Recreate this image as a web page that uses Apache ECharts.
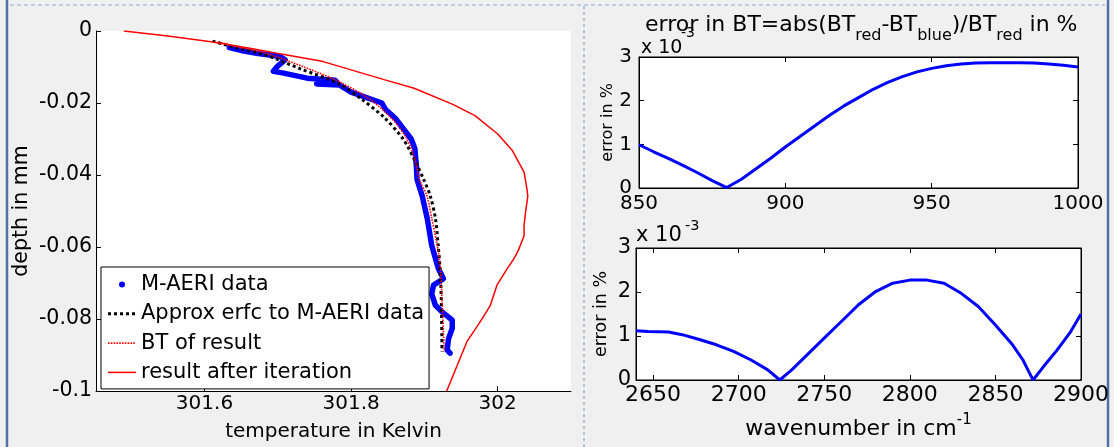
<!DOCTYPE html>
<html><head><meta charset="utf-8">
<script src="https://cdn.jsdelivr.net/npm/echarts@6/dist/echarts.min.js"></script>
<style>html,body{margin:0;padding:0;background:#f0f0f0}#c{width:1114px;height:447px}</style>
</head><body><div id="c"></div>
<script>
const FONT = 'DejaVu Sans';

// ---- Left panel: temperature (K) vs depth (mm) ----
const maeriTemp  = [301.634, 301.650, 301.671, 301.703, 301.710, 301.699, 301.694, 301.708, 301.740, 301.778, 301.781, 301.753, 301.784, 301.800, 301.842, 301.847, 301.861, 301.882, 301.887, 301.889, 301.890, 301.897, 301.904, 301.910, 301.919, 301.926, 301.9125, 301.910, 301.915, 301.924, 301.938, 301.938, 301.933, 301.931, 301.935];
const maeriDepth = [-0.0046, -0.0054, -0.0062, -0.0071, -0.0080, -0.0099, -0.0112, -0.0117, -0.0131, -0.0137, -0.0143, -0.0147, -0.0150, -0.0170, -0.0200, -0.0218, -0.0244, -0.0300, -0.0327, -0.0373, -0.0412, -0.0458, -0.0522, -0.0596, -0.0660, -0.0688, -0.0706, -0.0730, -0.0762, -0.0780, -0.0803, -0.0826, -0.0854, -0.0886, -0.0895];

const erfcTemp  = [301.611, 301.640, 301.681, 301.732, 301.784, 301.814, 301.845, 301.871, 301.888, 301.899, 301.908, 301.915, 301.919, 301.921, 301.923, 301.924];
const erfcDepth = [-0.0028, -0.0045, -0.0065, -0.0106, -0.0147, -0.0189, -0.0240, -0.0300, -0.0364, -0.0412, -0.0458, -0.0520, -0.0600, -0.0650, -0.0742, -0.0890];

const btTemp  = [301.619, 301.645, 301.681, 301.732, 301.784, 301.825, 301.856, 301.876, 301.888, 301.893, 301.9035, 301.910, 301.916, 301.921, 301.924, 301.927];
const btDepth = [-0.0030, -0.0044, -0.0060, -0.0097, -0.0141, -0.0189, -0.0244, -0.0300, -0.0364, -0.0412, -0.0458, -0.0520, -0.0580, -0.0642, -0.0742, -0.0890];

const iterTemp  = [301.490, 301.550, 301.609, 301.660, 301.699, 301.762, 301.800, 301.845, 301.886, 301.938, 301.969, 302.000, 302.020, 302.036, 302.040, 302.041, 302.038, 302.036, 302.036, 302.028, 302.022, 302.013, 301.999, 301.990, 301.976, 301.958, 301.945, 301.931, 301.930];
const iterDepth = [0.0000, -0.0014, -0.0030, -0.0047, -0.0062, -0.0085, -0.0108, -0.0135, -0.0159, -0.0203, -0.0235, -0.0286, -0.0332, -0.0392, -0.0440, -0.0460, -0.0504, -0.0540, -0.0569, -0.0610, -0.0633, -0.0660, -0.0706, -0.0762, -0.0808, -0.0863, -0.0928, -0.0997, -0.1000];

const tempTicks = [301.6, 301.8, 302];

// ---- Right panels: error in % (units of 1e-3) ----
const waveLow  = [850, 855, 860, 865, 870, 875, 880, 885, 890, 895, 900, 905, 910, 915, 920, 925, 930, 935, 940, 945, 950, 955, 960, 965, 970, 975, 980, 985, 990, 995, 1000];
const errLow   = [0.99, 0.83, 0.68, 0.52, 0.35, 0.17, 0.01, 0.20, 0.44, 0.68, 0.94, 1.18, 1.42, 1.66, 1.88, 2.07, 2.26, 2.42, 2.55, 2.66, 2.74, 2.80, 2.84, 2.86, 2.87, 2.87, 2.87, 2.86, 2.84, 2.81, 2.77];

const waveHigh = [2640, 2647, 2659, 2667, 2677, 2687, 2697, 2707, 2717, 2724, 2731, 2741, 2751, 2760, 2770, 2780, 2790, 2800, 2810, 2820, 2830, 2840, 2850, 2860, 2866, 2870, 2872, 2878, 2886, 2894, 2900];
const errHigh  = [1.12, 1.10, 1.09, 1.03, 0.92, 0.80, 0.65, 0.46, 0.23, 0.00, 0.23, 0.61, 0.99, 1.33, 1.71, 2.01, 2.20, 2.27, 2.27, 2.20, 1.97, 1.67, 1.25, 0.80, 0.46, 0.15, 0.00, 0.30, 0.68, 1.10, 1.50];
const waveHighTicks = [2650, 2700, 2750, 2800, 2850, 2900];

const zip = (a, b) => a.map((v, i) => [v, b[i]]);

const chart = echarts.init(document.getElementById('c'));
const txt = (size) => ({ fontFamily: FONT, fontSize: size, color: '#000', fontWeight: 'normal' });
const tick = { show: true, inside: true, length: 5, lineStyle: { color: '#000', width: 1 } };
const noSplit = { show: false };
const hidden = { show: false };
const noLegendDot = { color: 'rgba(0,0,0,0)', borderWidth: 0 };
const plain = v => String(v);

const option = {
  animation: false,
  backgroundColor: '#f0f0f0',
  title: [{
    text: '{m|error in BT=abs(BT}{s|red}{m|-BT}{s|blue}{m|)/BT}{s|red}{m| in %}',
    left: 645, top: 7, padding: 0,
    textStyle: { fontWeight: 'normal', rich: {
      m: { fontFamily: FONT, fontSize: 22, color: '#000', fontWeight: 'normal' },
      s: { fontFamily: FONT, fontSize: 16, color: '#000', fontWeight: 'normal', padding: [21, 0, 0, 0] }
    } }
  }],
  legend: {
    left: 101, top: 267, orient: 'vertical', selectedMode: false,
    itemWidth: 28, itemHeight: 6, itemGap: 6.3, padding: [6, 5, 5, 5.5],
    backgroundColor: '#fff', borderColor: '#000', borderWidth: 1, borderRadius: 0,
    textStyle: { fontFamily: FONT, fontSize: 21, color: '#000', lineHeight: 23 },
    data: [
      { name: 'M-AERI data', icon: 'circle' },
      { name: 'Approx erfc to M-AERI data', itemStyle: noLegendDot, lineStyle: { width: 3 } },
      { name: 'BT of result', itemStyle: noLegendDot, lineStyle: { width: 1.6 } },
      { name: 'result after iteration', itemStyle: noLegendDot, lineStyle: { width: 1.5 } }
    ]
  },
  grid: [
    { left: 96, top: 31, width: 475, height: 362, show: true, backgroundColor: '#fff', borderWidth: 0 },
    { left: 639, top: 57, width: 439, height: 131, show: true, backgroundColor: '#fff', borderColor: '#000', borderWidth: 1 },
    { left: 636, top: 248, width: 445, height: 132, show: true, backgroundColor: '#fff', borderColor: '#000', borderWidth: 1 }
  ],
  xAxis: [
    { type: 'value', gridIndex: 0, min: 301.452, max: 302.1,
      axisLine: { show: true, onZero: false, lineStyle: { color: '#000' } },
      axisTick: Object.assign({}, tick, { customValues: tempTicks }),
      axisLabel: Object.assign(txt(20), { margin: 3, customValues: tempTicks, formatter: v => String(+v.toFixed(1)) }),
      splitLine: noSplit,
      name: 'temperature in Kelvin', nameLocation: 'middle', nameGap: 31, nameTextStyle: txt(20) },
    { type: 'value', gridIndex: 1, min: 850, max: 1000, interval: 50,
      axisLine: { show: true, onZero: false, lineStyle: { color: '#000' } },
      axisTick: tick, axisLabel: Object.assign(txt(20), { margin: 6, formatter: plain }), splitLine: noSplit },
    { type: 'value', gridIndex: 1, position: 'top', min: 850, max: 1000, interval: 50,
      axisLine: { show: true, onZero: false, lineStyle: { color: '#000' } },
      axisTick: tick, axisLabel: hidden, splitLine: noSplit },
    { type: 'value', gridIndex: 2, min: 2640, max: 2900,
      axisLine: { show: true, onZero: false, lineStyle: { color: '#000' } },
      axisTick: Object.assign({}, tick, { customValues: waveHighTicks }),
      axisLabel: Object.assign(txt(22), { margin: 4, customValues: waveHighTicks, formatter: plain }),
      splitLine: noSplit,
      name: '{m|wavenumber in cm}{p|-1}', nameLocation: 'middle', nameGap: 32.5,
      nameTextStyle: { rich: {
        m: { fontFamily: FONT, fontSize: 22, color: '#000' },
        p: { fontFamily: FONT, fontSize: 15, color: '#000', padding: [0, 0, 18, 0] }
      } } },
    { type: 'value', gridIndex: 2, position: 'top', min: 2640, max: 2900,
      axisLine: { show: true, onZero: false, lineStyle: { color: '#000' } },
      axisTick: Object.assign({}, tick, { customValues: waveHighTicks }),
      axisLabel: hidden, splitLine: noSplit }
  ],
  yAxis: [
    { type: 'value', gridIndex: 0, min: -0.1, max: 0, interval: 0.02,
      axisLine: { show: true, onZero: false, lineStyle: { color: '#000' } },
      axisTick: tick,
      axisLabel: Object.assign(txt(20.5), { margin: 4, formatter: v => String(+v.toFixed(2)) }),
      splitLine: noSplit,
      name: 'depth in mm', nameLocation: 'middle', nameGap: 63.5, nameRotate: 90, nameTextStyle: txt(20.5) },
    { type: 'value', gridIndex: 1, min: 0, max: 3, interval: 1,
      axisLine: { show: true, onZero: false, lineStyle: { color: '#000' } },
      axisTick: tick, axisLabel: Object.assign(txt(20), { margin: 7, formatter: plain }), splitLine: noSplit,
      name: 'error in %', nameLocation: 'middle', nameGap: 23.5, nameRotate: 90, nameTextStyle: txt(16) },
    { type: 'value', gridIndex: 1, position: 'right', min: 0, max: 3, interval: 1,
      axisLine: { show: true, onZero: false, lineStyle: { color: '#000' } },
      axisTick: tick, axisLabel: hidden, splitLine: noSplit },
    { type: 'value', gridIndex: 2, min: 0, max: 3, interval: 1,
      axisLine: { show: true, onZero: false, lineStyle: { color: '#000' } },
      axisTick: tick, axisLabel: Object.assign(txt(21), { margin: 5, formatter: plain }), splitLine: noSplit,
      name: 'error in %', nameLocation: 'middle', nameGap: 26, nameRotate: 90, nameTextStyle: txt(17.5) },
    { type: 'value', gridIndex: 2, position: 'right', min: 0, max: 3, interval: 1,
      axisLine: { show: true, onZero: false, lineStyle: { color: '#000' } },
      axisTick: tick, axisLabel: hidden, splitLine: noSplit }
  ],
  series: [
    { name: 'M-AERI data', type: 'line', xAxisIndex: 0, yAxisIndex: 0, data: zip(maeriTemp, maeriDepth),
      symbol: 'none', itemStyle: { color: '#0000ff' },
      lineStyle: { color: '#0000ff', width: 5.5, cap: 'round', join: 'round' }, emphasis: { disabled: true } },
    { name: 'Approx erfc to M-AERI data', type: 'line', xAxisIndex: 0, yAxisIndex: 0, data: zip(erfcTemp, erfcDepth),
      symbol: 'none', smooth: 0.3, itemStyle: { color: '#000' },
      lineStyle: { color: '#000', width: 3, type: [3, 3] }, emphasis: { disabled: true } },
    { name: 'BT of result', type: 'line', xAxisIndex: 0, yAxisIndex: 0, data: zip(btTemp, btDepth),
      symbol: 'none', smooth: 0.3, itemStyle: { color: '#ff0000' },
      lineStyle: { color: '#ff0000', width: 1.6, type: [1.6, 1.2] }, emphasis: { disabled: true } },
    { name: 'result after iteration', type: 'line', xAxisIndex: 0, yAxisIndex: 0, data: zip(iterTemp, iterDepth),
      symbol: 'none', itemStyle: { color: '#ff0000' },
      lineStyle: { color: '#ff0000', width: 1.5 }, emphasis: { disabled: true } },
    { type: 'line', xAxisIndex: 1, yAxisIndex: 1, data: zip(waveLow, errLow), symbol: 'none',
      lineStyle: { color: '#0000ff', width: 3 }, emphasis: { disabled: true } },
    { type: 'line', xAxisIndex: 3, yAxisIndex: 3, data: zip(waveHigh, errHigh), symbol: 'none',
      lineStyle: { color: '#0000ff', width: 3 }, emphasis: { disabled: true } }
  ],
  graphic: [
    { type: 'line', silent: true, shape: { x1: 7, y1: 0, x2: 7, y2: 447 }, style: { stroke: '#4f72a6', lineWidth: 2.5 } },
    { type: 'line', silent: true, shape: { x1: 1108, y1: 0, x2: 1108, y2: 447 }, style: { stroke: '#4f72a6', lineWidth: 2.5 } },
    { type: 'line', silent: true, shape: { x1: 10, y1: 5, x2: 1105, y2: 5 }, style: { stroke: '#a9c0de', lineWidth: 1.5, lineDash: [4, 3] } },
    { type: 'line', silent: true, shape: { x1: 584, y1: 6, x2: 584, y2: 447 }, style: { stroke: '#6e95cc', lineWidth: 1, lineDash: [3, 3] } },
    { type: 'text', silent: true, x: 641, y: 48.5, style: { text: 'x 10', fontFamily: FONT, fontSize: 19, fill: '#000', align: 'left', verticalAlign: 'middle' } },
    { type: 'text', silent: true, x: 681, y: 33, style: { text: '-3', fontFamily: FONT, fontSize: 14, fill: '#000', align: 'left', verticalAlign: 'middle' } },
    { type: 'text', silent: true, x: 636, y: 236, style: { text: 'x 10', fontFamily: FONT, fontSize: 21, fill: '#000', align: 'left', verticalAlign: 'middle' } },
    { type: 'text', silent: true, x: 685, y: 226, style: { text: '-3', fontFamily: FONT, fontSize: 14.5, fill: '#000', align: 'left', verticalAlign: 'middle' } }
  ]
};
chart.setOption(option);
</script>
</body></html>
